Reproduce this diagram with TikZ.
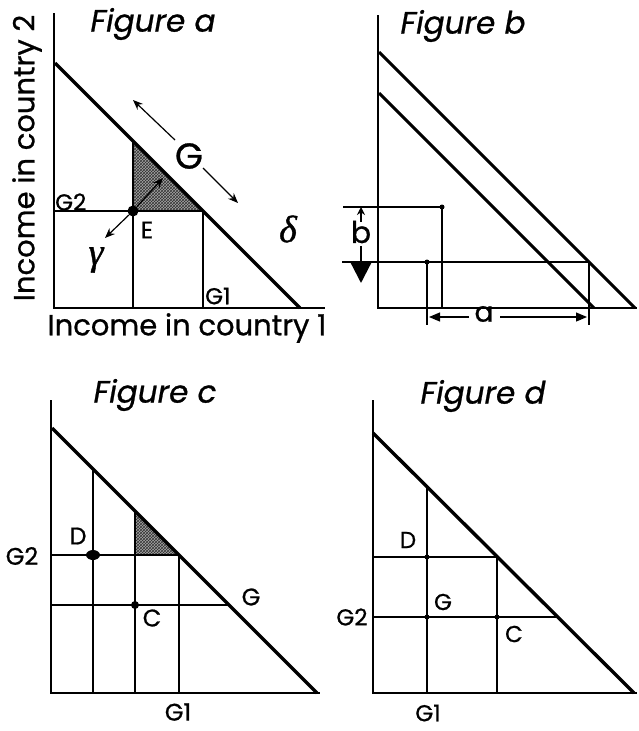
\documentclass[tikz,border=0pt]{standalone}
\usepackage{fontspec}
\setmainfont{Poppins}[FakeBold=0.8]
\newfontfamily\grkfont{Liberation Serif}[FakeBold=1]
\usetikzlibrary{arrows.meta,patterns,shapes.geometric}
\begin{document}
\begin{tikzpicture}[x=1pt,y=-1pt,
  ax/.style={line width=1.1pt},
  thinln/.style={line width=1.1pt},
  budget/.style={line width=3.4pt},
  shade/.style={fill=black!35,postaction={pattern=crosshatch,pattern color=black!80}},
  title/.style={font=\fontsize{31}{31}\selectfont\itshape,inner sep=0pt},
  axlbl/.style={font=\fontsize{29}{29}\selectfont,inner sep=0pt},
  small/.style={font=\fontsize{23}{23}\selectfont,inner sep=0pt},
  mid/.style={font=\fontsize{24}{24}\selectfont,inner sep=0pt},
  greek/.style={font=\grkfont\fontsize{38}{38}\selectfont\itshape,inner sep=0pt},
  arr/.style={line width=1.2pt,-{Stealth[length=10pt,width=8pt]}},
  dotm/.style={fill=black,inner sep=0pt,circle}]
\useasboundingbox[fill=white] (0,0) rectangle (638,731);

% ---------------- Figure a ----------------
\coordinate (aTop) at (54,13);
\coordinate (aO) at (54,308);
\coordinate (aRight) at (325,308);
\coordinate (aL1) at (55,63);
\coordinate (aL2) at (300,308);
\coordinate (aT) at (133,141);
\coordinate (aE) at (133,211);
\coordinate (aR) at (203,211);
\coordinate (aEb) at (133,308);
\coordinate (aRb) at (203,308);
\coordinate (aG2) at (54,211);
\fill[shade] (aT) -- (aR) -- (aE) -- cycle;
\draw[ax] (aTop) -- (aO) -- (aRight);
\draw[budget] (aL1) -- (aL2);
\draw[thinln] (aT) -- (aEb);
\draw[thinln] (aG2) -- (aR) -- (aRb);
\node[dotm,minimum size=11pt] (E) at (aE) {};
\coordinate (aUp) at (163,178);
\coordinate (aDn) at (105,238);
\draw[arr] (E) -- (aUp);
\draw[arr] (E) -- (aDn);
\coordinate (aGa) at (175,140);
\coordinate (aGat) at (133,100);
\coordinate (aGb) at (203,168);
\coordinate (aGbt) at (238,203);
\draw[arr] (aGa) -- (aGat);
\draw[arr] (aGb) -- (aGbt);
\node[font=\fontsize{36}{36}\selectfont,inner sep=0pt] (aG) at (189,156) {G};
\node[mid] (Elbl) at (147,230) {E};
\node[greek] (gam) at (96,260) {γ};
\node[greek] (del) at (288,229) {δ};
\node[small,anchor=west] (aG2l) at (55,202) {G2};
\node[small,anchor=west] (aG1l) at (205,296) {G1};
\node[title] (ta) at (153,24) {Figure a};
\node[axlbl,rotate=90] (ylab) at (27,158) {Income in country 2};
\node[axlbl] (xlab) at (187,328) {Income in country 1};

% ---------------- Figure b ----------------
\coordinate (bTop) at (378,15);
\coordinate (bO) at (378,308);
\coordinate (bRight) at (637,308);
\coordinate (bU1) at (379,52);
\coordinate (bU2) at (635,308);
\coordinate (bL1) at (379,93);
\coordinate (bL2) at (594,308);
\draw[ax] (bTop) -- (bO) -- (bRight);
\draw[budget,line width=3pt] (bU1) -- (bU2);
\draw[budget,line width=3pt] (bL1) -- (bL2);
\coordinate (bh1a) at (343,207);
\coordinate (bh1b) at (442,207);
\coordinate (bh2a) at (342,262);
\coordinate (bh2b) at (427,262);
\coordinate (bh2c) at (589,262);
\coordinate (bv1) at (442,308);
\coordinate (bv2) at (427,325);
\coordinate (bv3) at (589,325);
\draw[thinln] (bh1a) -- (bh1b) -- (bv1);
\draw[thinln] (bh2a) -- (bh2c) -- (bv3);
\draw[thinln] (bh2b) -- (bv2);
\node[dotm,minimum size=5pt] (bd1) at (bh1b) {};
\node[dotm,minimum size=5pt] (bd2) at (bh2b) {};
\node[font=\fontsize{30}{30}\selectfont,inner sep=0pt] (blbl) at (361,232) {b};
\coordinate (bua) at (361,222);
\coordinate (but) at (361,207);
\coordinate (bda) at (361,246);
\coordinate (bdt) at (361,283);
\draw[line width=1.6pt,-{Stealth[length=8pt,width=8pt]}] (bua) -- (but);
\draw[line width=2.4pt,-{Triangle[length=22pt,width=22pt]}] (bda) -- (bdt);
\node[font=\fontsize{28}{28}\selectfont,inner sep=0pt] (alblb) at (484,314) {a};
\coordinate (aal) at (469,317);
\coordinate (aalt) at (429,317);
\coordinate (aar) at (500,317);
\coordinate (aart) at (587,317);
\draw[line width=1.2pt,-{Triangle[length=11pt,width=9pt]}] (aal) -- (aalt);
\draw[line width=1.2pt,-{Triangle[length=11pt,width=9pt]}] (aar) -- (aart);
\node[title] (tb) at (463,26) {Figure b};

% ---------------- Figure c ----------------
\coordinate (cTop) at (51,400);
\coordinate (cO) at (51,693);
\coordinate (cRight) at (320,693);
\coordinate (cL1) at (52,428);
\coordinate (cL2) at (317,693);
\coordinate (cv1t) at (93,469);
\coordinate (cv1b) at (93,693);
\coordinate (cv2t) at (135,511);
\coordinate (cv2b) at (135,693);
\coordinate (cv3t) at (179,555);
\coordinate (cv3b) at (179,693);
\coordinate (ch1a) at (51,555);
\coordinate (ch2a) at (51,605);
\coordinate (ch2b) at (229,605);
\coordinate (cC) at (135,605);
\coordinate (cD) at (93,555);
\coordinate (cS) at (135,555);
\fill[shade] (cv2t) -- (cv3t) -- (cS) -- cycle;
\draw[ax] (cTop) -- (cO) -- (cRight);
\draw[budget] (cL1) -- (cL2);
\draw[thinln] (cv1t) -- (cv1b);
\draw[thinln] (cv2t) -- (cv2b);
\draw[thinln] (cv3t) -- (cv3b);
\draw[thinln] (ch1a) -- (cv3t);
\draw[thinln] (ch2a) -- (ch2b);
\node[fill=black,ellipse,inner sep=0pt,minimum width=14pt,minimum height=10pt] (Dc) at (cD) {};
\node[dotm,minimum size=8pt] (Cc) at (cC) {};
\node[mid] (cDl) at (78,536) {D};
\node[mid] (cCl) at (152,618) {C};
\node[mid] (cGl) at (251,597) {G};
\node[mid] (cG2l) at (22,556) {G2};
\node[mid] (cG1l) at (178,712) {G1};
\node[title] (tc) at (155,395) {Figure c};

% ---------------- Figure d ----------------
\coordinate (dTop) at (373,400);
\coordinate (dO) at (373,693);
\coordinate (dRight) at (637,693);
\coordinate (dL1) at (373,433);
\coordinate (dL2) at (634,693);
\coordinate (dv1t) at (427,487);
\coordinate (dv1b) at (427,693);
\coordinate (dv2t) at (497,557);
\coordinate (dv2b) at (497,693);
\coordinate (dh1a) at (373,557);
\coordinate (dh2a) at (373,617);
\coordinate (dh2b) at (557,617);
\draw[ax] (dTop) -- (dO) -- (dRight);
\draw[budget] (dL1) -- (dL2);
\draw[thinln] (dv1t) -- (dv1b);
\draw[thinln] (dv2t) -- (dv2b);
\draw[thinln] (dh1a) -- (dv2t);
\draw[thinln] (dh2a) -- (dh2b);
\node[dotm,minimum size=5pt] (dd1) at (427,557) {};
\node[dotm,minimum size=5pt] (dd2) at (427,617) {};
\node[dotm,minimum size=5pt] (dd3) at (497,617) {};
\node[small] (dDl) at (408,540) {D};
\node[small] (dGl) at (443,602) {G};
\node[small] (dCl) at (514,634) {C};
\node[small] (dG2l) at (352,617) {G2};
\node[small] (dG1l) at (428,713) {G1};
\node[title] (td) at (483,396) {Figure d};
\end{tikzpicture}
\end{document}
